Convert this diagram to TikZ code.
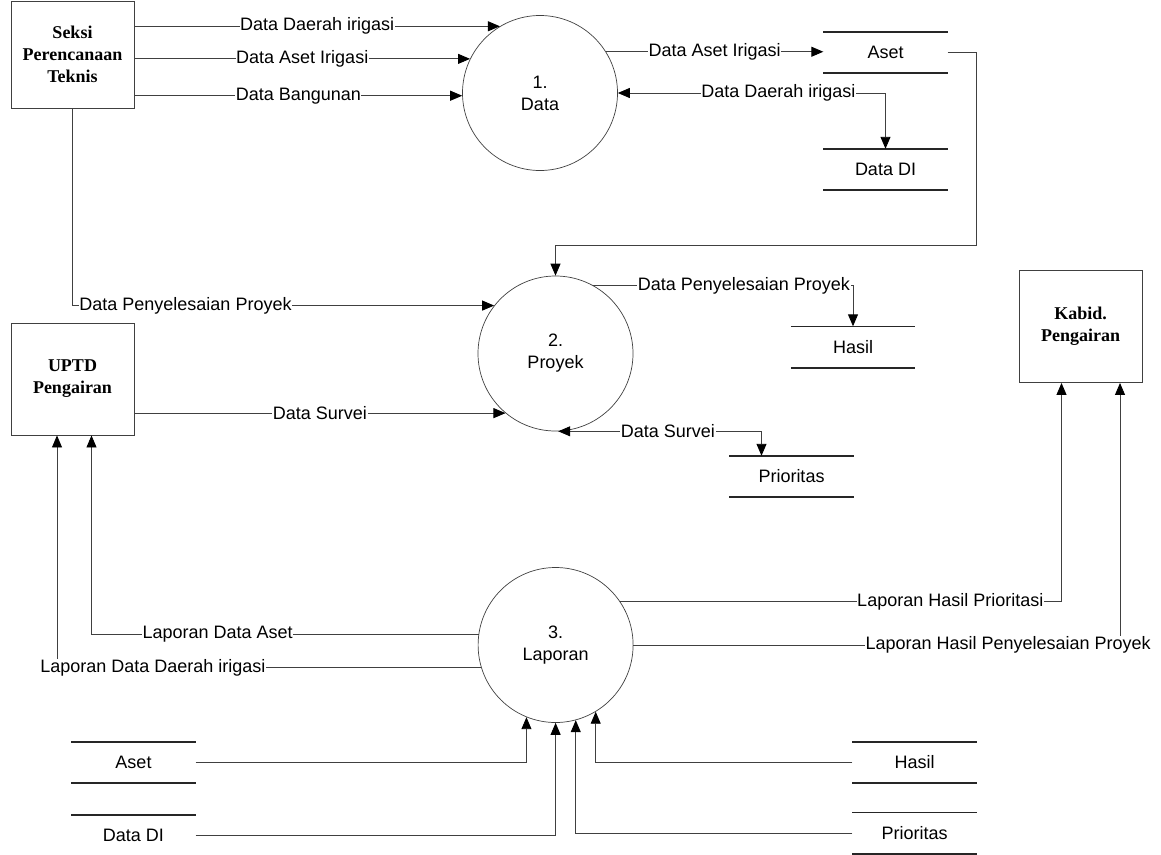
\documentclass[tikz,border=0pt]{standalone}
\usepackage{fontspec}
\setmainfont{Liberation Serif}
\setsansfont{Liberation Sans}
\usepackage{tikz}
\usetikzlibrary{arrows.meta}
\definecolor{linegray}{HTML}{404040}
\definecolor{storeblack}{HTML}{262626}

\tikzset{
  ent/.style={draw=linegray, line width=0.9pt, minimum width=123pt, minimum height=112pt,
              align=center, font=\fontsize{18}{22}\selectfont\bfseries},
  proc/.style={circle, draw=linegray, line width=0.7pt, minimum size=155pt, inner sep=0pt,
               align=center, font=\fontsize{18}{22}\selectfont\sffamily},
  store/.style={minimum width=124pt, minimum height=41pt, inner sep=0pt,
                font=\fontsize{18}{22}\selectfont\sffamily},
  storeline/.style={draw=storeblack, line width=1.6pt},
  lbl/.style={fill=white, inner sep=0.6pt, font=\fontsize{18}{22}\selectfont\sffamily},
  flow/.style={draw=linegray, line width=0.9pt, ->},
  >={Triangle[length=12pt,width=10pt,color=black]}
}

\begin{document}
\begin{tikzpicture}[x=1pt, y=-1pt]
\useasboundingbox (0,0) rectangle (1161,854);

\node[ent, minimum height=107pt] (seksi) at (72.5,54.5) {Seksi\\Perencanaan\\Teknis};
\node[ent] (uptd) at (72.5,379) {UPTD\\Pengairan};
\node[ent] (kabid) at (1080.5,326.5) {Kabid.\\Pengairan};

\node[proc] (p1) at (540,93) {1.\\Data};
\node[proc] (p2) at (555.5,353.5) {2.\\Proyek};
\node[proc] (p3) at (555.6,645) {3.\\Laporan};

\node[store] (aset1) at (885.5,52.5) {Aset};
\node[store] (dd1) at (885.5,169.5) {Data DI};
\node[store] (hasil1) at (853,347) {Hasil};
\node[store] (prior1) at (791.5,476.5) {Prioritas};
\node[store] (aset2) at (133.5,762.5) {Aset};
\node[store] (dd2) at (133.5,835.5) {Data DI};
\node[store] (hasil2) at (914.5,762.5) {Hasil};
\node[store] (prior2) at (914.5,833) {Prioritas};
\foreach \s in {aset1,dd1,hasil1,prior1,aset2,dd2,hasil2,prior2}
  \draw[storeline] (\s.north west) -- (\s.north east) (\s.south west) -- (\s.south east);

\draw[flow] (p1.121 -| seksi.east) -- node[lbl]{Data Daerah irigasi} (p1.121);
\draw[flow] (p1.154 -| seksi.east) -- node[lbl]{Data Aset Irigasi} (p1.154);
\draw[flow] (p1.182 -| seksi.east) -- node[lbl]{Data Bangunan} (p1.182);
\draw[flow] (p1.32) -- node[lbl]{Data Aset Irigasi} (p1.32 -| aset1.west);
\draw[flow, <->] (p1.east) -| node[lbl, pos=0.3]{Data Daerah irigasi} (dd1.north);
\draw[flow] (aset1.east) -- ++(29,0) |- ([yshift=30pt]p2.north) -- (p2.north);

\draw[flow] (seksi.south) |- node[lbl, pos=0.634]{Data Penyelesaian Proyek} (p2.142);
\draw[flow] (p2.230 -| uptd.east) -- node[lbl]{Data Survei} (p2.230);
\draw[flow] (p2.61) -| node[lbl, pos=0.29]{Data Penyelesaian Proyek} (hasil1.north);
\draw[flow, <->] (p2.272) -| node[lbl, pos=0.27]{Data Survei} ([xshift=-30pt]prior1.north);

\draw[flow] (p3.172) -| node[lbl, pos=0.337]{Laporan Data Aset} ([xshift=19pt]uptd.south);
\draw[flow] (p3.197) -| node[lbl, pos=0.387]{Laporan Data Daerah irigasi} ([xshift=-15.5pt]uptd.south);
\draw[flow] (p3.34) -| node[lbl, pos=0.374]{Laporan Hasil Prioritasi} ([xshift=-19pt]kabid.south);
\draw[flow] (p3.east) -| node[lbl, pos=0.385]{Laporan Hasil Penyelesaian Proyek} ([xshift=39.5pt]kabid.south);

\draw[flow] (aset2.east) -| (p3.248);
\draw[flow] (dd2.east) -| (p3.south);
\draw[flow] (prior2.west) -| (p3.285);
\draw[flow] (hasil2.west) -| (p3.301);
\end{tikzpicture}
\end{document}
